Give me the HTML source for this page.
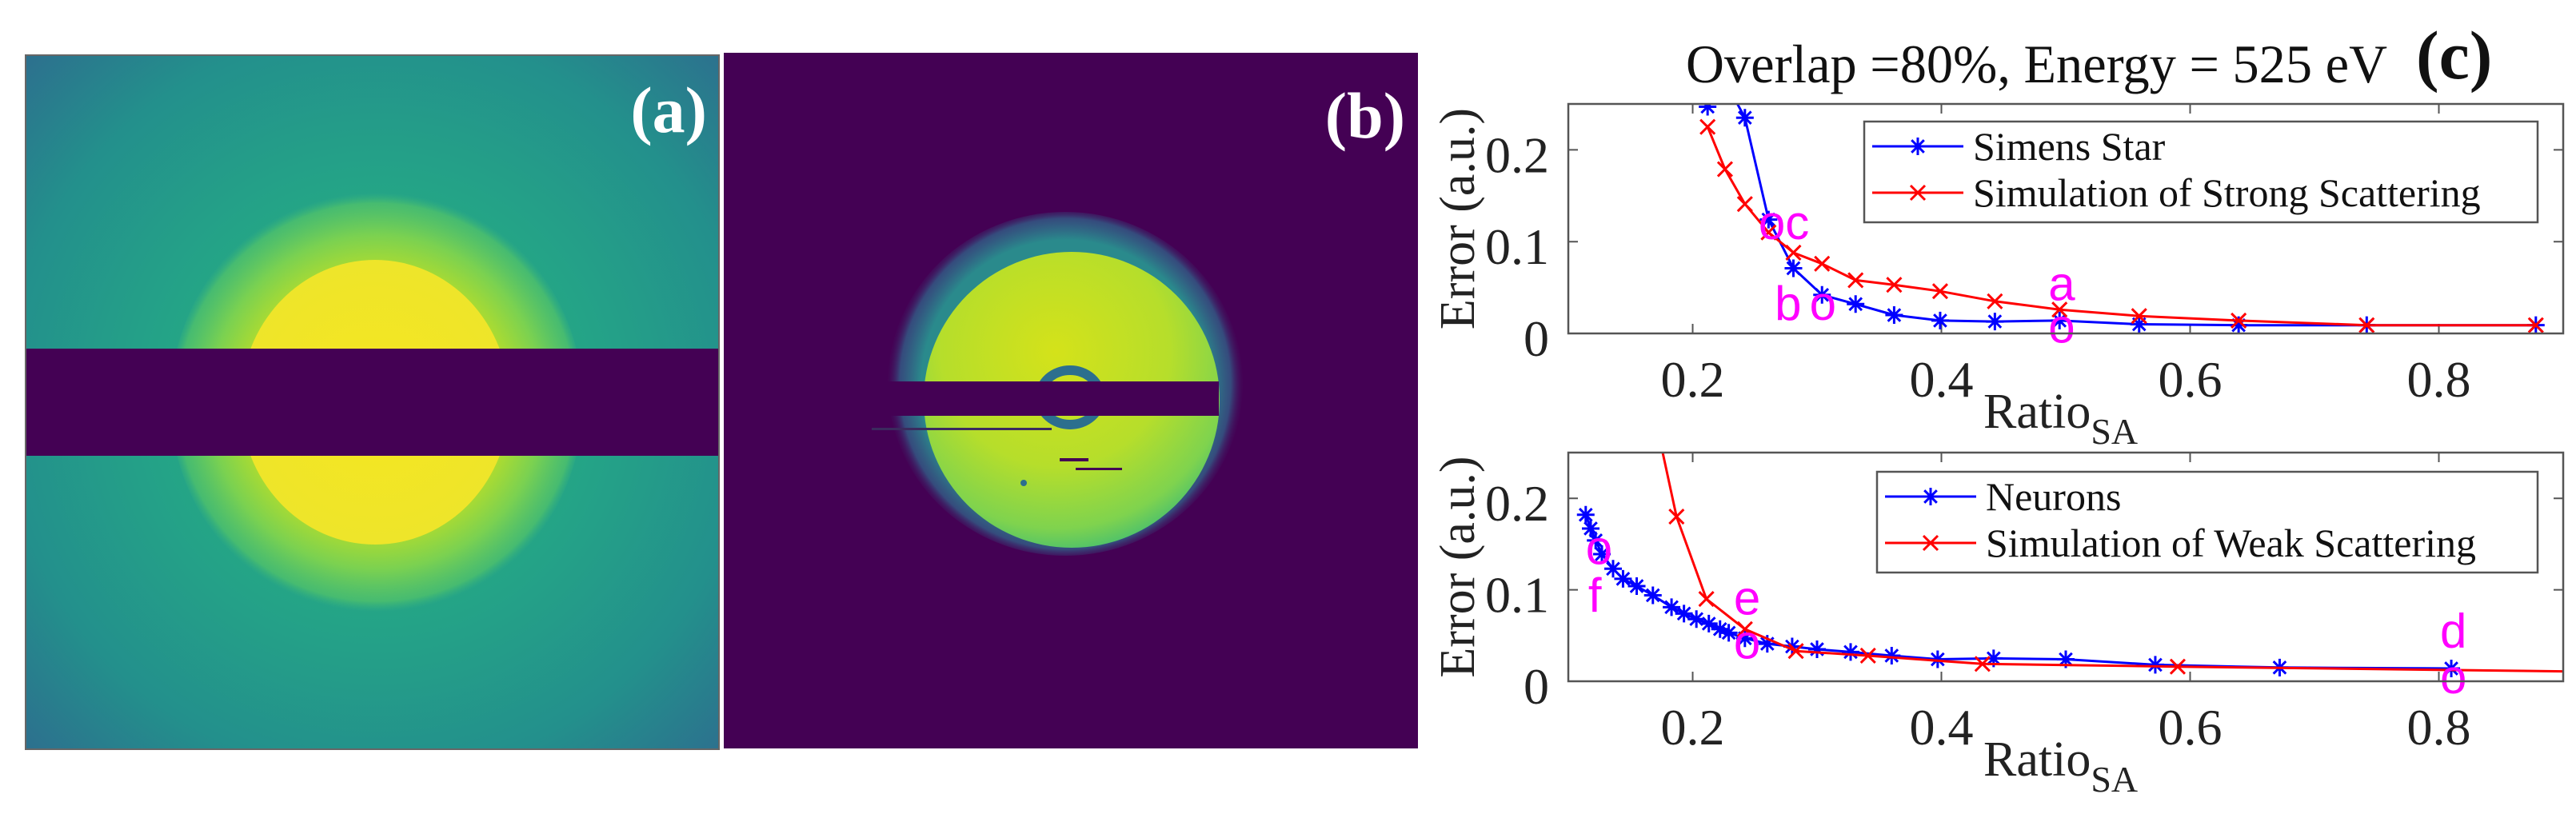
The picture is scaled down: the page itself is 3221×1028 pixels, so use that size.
<!DOCTYPE html>
<html><head><meta charset="utf-8"><style>
html,body{margin:0;padding:0;background:#fff;}
svg{display:block;}
</style></head><body>
<svg id="fig" width="3221" height="1028" viewBox="0 0 3221 1028" xmlns="http://www.w3.org/2000/svg">
<defs>
<radialGradient id="gA" cx="471" cy="503" r="620" gradientUnits="userSpaceOnUse">
<stop offset="0" stop-color="#2fb47c"/><stop offset="0.45" stop-color="#24a387"/><stop offset="0.75" stop-color="#23908c"/><stop offset="1" stop-color="#2d6f8e"/>
</radialGradient>
<radialGradient id="gRing" cx="471" cy="503" r="262" gradientUnits="userSpaceOnUse">
<stop offset="0.6" stop-color="#b8de29" stop-opacity="1"/><stop offset="0.8" stop-color="#7ad151" stop-opacity="1"/><stop offset="0.95" stop-color="#4fc16b" stop-opacity="0.8"/><stop offset="1" stop-color="#3bb57a" stop-opacity="0"/>
</radialGradient>
<radialGradient id="gYel" cx="469" cy="503" r="175" gradientUnits="userSpaceOnUse">
<stop offset="0" stop-color="#f6e620"/><stop offset="1" stop-color="#eee52a"/>
</radialGradient>
<radialGradient id="gDisc" cx="1320" cy="440" r="260" gradientUnits="userSpaceOnUse">
<stop offset="0" stop-color="#d4e21a"/><stop offset="0.55" stop-color="#b6de2b"/><stop offset="0.85" stop-color="#7fd34e"/><stop offset="1" stop-color="#3fbc73"/>
</radialGradient>
<radialGradient id="gHalo" cx="1332" cy="480" r="225" gradientUnits="userSpaceOnUse">
<stop offset="0.8" stop-color="#2a8a8c" stop-opacity="1"/><stop offset="0.92" stop-color="#2f6b8e" stop-opacity="0.7"/><stop offset="1" stop-color="#440154" stop-opacity="0"/>
</radialGradient>
<clipPath id="clipA"><rect x="32" y="69" width="867" height="868"/></clipPath>
<clipPath id="clipTop"><rect x="1961" y="130" width="1244" height="287"/></clipPath>
<clipPath id="clipBot"><rect x="1961" y="566" width="1244" height="286"/></clipPath>
</defs>

<!-- Panel (a) -->
<g clip-path="url(#clipA)">
<rect x="32" y="69" width="867" height="868" fill="url(#gA)"/>
<ellipse cx="471" cy="503" rx="258" ry="266" fill="url(#gRing)"/>
<ellipse cx="469" cy="503" rx="168" ry="178" fill="url(#gYel)"/>
<rect x="32" y="436" width="867" height="134" fill="#440154"/>
</g>
<rect x="32" y="69" width="867" height="868" fill="none" stroke="#666" stroke-width="2"/>
<text x="884" y="165" text-anchor="end" font-family="Liberation Serif, serif" font-weight="bold" font-size="82" fill="#fff">(a)</text>

<!-- Panel (b) -->
<g>
<rect x="905" y="66" width="868" height="870" fill="#440154"/>
<ellipse cx="1332" cy="480" rx="222" ry="215" fill="url(#gHalo)"/>
<circle cx="1340" cy="500" r="185" fill="url(#gDisc)"/>
<ellipse cx="1338" cy="497" rx="38" ry="34" fill="none" stroke="#2c6f8e" stroke-width="12"/>
<rect x="1100" y="477" width="424" height="43" fill="#440154"/>
<rect x="1090" y="535" width="225" height="3" fill="#3b2a5e"/>
<rect x="1325" y="573" width="36" height="4" fill="#440154"/>
<rect x="1345" y="585" width="58" height="3" fill="#440154"/>
<circle cx="1280" cy="604" r="4" fill="#2c6f8e"/>
</g>
<text x="1757" y="172" text-anchor="end" font-family="Liberation Serif, serif" font-weight="bold" font-size="82" fill="#fff">(b)</text>

<!-- Panel (c) -->
<text x="2108" y="103" font-family="Liberation Serif, serif" font-size="68" fill="#111" textLength="877" lengthAdjust="spacingAndGlyphs">Overlap =80%, Energy = 525 eV</text>
<text x="3021" y="98" font-family="Liberation Serif, serif" font-weight="bold" font-size="86" fill="#111">(c)</text>
<g id="plots"></g>
</svg>
<script>
// ---- Top subplot data (Simens Star / Strong scattering) ----
const topStarX = [0.212, 0.228, 0.242, 0.261, 0.281, 0.304, 0.331, 0.362, 0.399, 0.443, 0.495, 0.559, 0.639, 0.742, 0.878];
const topStarY = [0.247, 0.27, 0.235, 0.124, 0.071, 0.042, 0.032, 0.020, 0.014, 0.013, 0.014, 0.010, 0.009, 0.009, 0.009];
const topSimX = [0.212, 0.226, 0.242, 0.261, 0.281, 0.304, 0.331, 0.362, 0.399, 0.443, 0.495, 0.559, 0.639, 0.742, 0.878];
const topSimY = [0.225, 0.179, 0.141, 0.110, 0.088, 0.076, 0.058, 0.053, 0.046, 0.035, 0.026, 0.019, 0.014, 0.009, 0.009];
// ---- Bottom subplot data (Neurons / Weak scattering) ----
const botNeurX = [0.114, 0.118, 0.122, 0.127, 0.136, 0.144, 0.155, 0.168, 0.183, 0.193, 0.203, 0.213, 0.222, 0.229, 0.242, 0.260, 0.280, 0.300, 0.327, 0.360, 0.397, 0.442, 0.500, 0.572, 0.672, 0.810];
const botNeurY = [0.182, 0.167, 0.154, 0.139, 0.123, 0.112, 0.104, 0.094, 0.081, 0.074, 0.068, 0.063, 0.057, 0.053, 0.047, 0.041, 0.038, 0.035, 0.032, 0.028, 0.024, 0.025, 0.024, 0.018, 0.015, 0.014];
const botSimX = [0.16, 0.187, 0.211, 0.242, 0.283, 0.341, 0.433, 0.590, 0.95];
const botSimY = [0.35, 0.180, 0.090, 0.057, 0.033, 0.028, 0.019, 0.016, 0.010];
const xTicks = [0.2, 0.4, 0.6, 0.8];
const xTickLabels = ["0.2", "0.4", "0.6", "0.8"];
const yTicks = [0, 0.1, 0.2];
const yTickLabels = ["0", "0.1", "0.2"];
const topNotes = ["oc", "b", "o", "a", "o"];
const topNoteX = [0.253, 0.266, 0.294, 0.486, 0.486];
const topNoteY = [0.103, 0.015, 0.015, 0.036, -0.010];
const botNotes = ["o", "f", "e", "o", "d", "o"];
const botNoteX = [0.114, 0.116, 0.233, 0.233, 0.801, 0.801];
const botNoteY = [0.128, 0.076, 0.073, 0.025, 0.037, -0.013];

const NS = "http://www.w3.org/2000/svg";
const root = document.getElementById("plots");
function mk(tag, attrs, parent) {
  const e = document.createElementNS(NS, tag);
  for (const k in attrs) e.setAttribute(k, attrs[k]);
  (parent || root).appendChild(e);
  return e;
}
function starPath(cx, cy, r) {
  const d = r * 0.707;
  return `M${cx - r},${cy}H${cx + r}M${cx},${cy - r}V${cy + r}M${cx - d},${cy - d}L${cx + d},${cy + d}M${cx - d},${cy + d}L${cx + d},${cy - d}`;
}
function crossPath(cx, cy, r) {
  return `M${cx - r},${cy - r}L${cx + r},${cy + r}M${cx - r},${cy + r}L${cx + r},${cy - r}`;
}

function makeAxes(cfg) {
  const L = 1961, R = 3205, T = cfg.top, B = cfg.bottom;
  const xs = v => L + (v - 0.1) / 0.8 * (R - L);
  const ys = v => B - v / 0.25 * (B - T);
  const g = mk("g", {});
  
  
  xTicks.forEach((t, i) => {
    const x = xs(t);
    const tk = mk("path", { d: `M${x},${B}V${B - 12}M${x},${T}V${T + 12}`, stroke: "#555", "stroke-width": 2, fill: "none" }, g);
    
    
    const lb = mk("text", { x: x, y: B + 79, "text-anchor": "middle", "font-family": "Liberation Serif, serif", "font-size": 64, fill: "#222" }, g);
    
    
    lb.textContent = xTickLabels[i];
  });
  yTicks.forEach((t, i) => {
    const y = ys(t);
    const tk = mk("path", { d: `M${L},${y}H${L + 12}M${R},${y}H${R - 12}`, stroke: "#555", "stroke-width": 2, fill: "none" }, g);
    
    
    const lb = mk("text", { x: L - 24, y: y + 28, "text-anchor": "end", "font-family": "Liberation Serif, serif", "font-size": 64, fill: "#222" }, g);
    
    
    lb.textContent = yTickLabels[i];
  });
  const sg = mk("g", { "clip-path": `url(#${cfg.clip})` }, g);
  cfg.series.forEach(s => {
    const pts = s.x.map((v, i) => `${xs(v).toFixed(1)},${ys(s.y[i]).toFixed(1)}`).join(" ");
    const pl = mk("polyline", { points: pts, fill: "none", stroke: s.color, "stroke-width": 3, "stroke-linejoin": "round" }, sg);
    
    
    let d = "";
    s.x.forEach((v, i) => { d += s.marker === "star" ? starPath(xs(v), ys(s.y[i]), 11) : crossPath(xs(v), ys(s.y[i]), 9); });
    const mp = mk("path", { d: d, fill: "none", stroke: s.color, "stroke-width": 3 }, sg);
    
    
  });
  cfg.notes.forEach((n, i) => {
    const t = mk("text", { x: xs(cfg.noteX[i]), y: ys(cfg.noteY[i]), "font-family": "Liberation Sans, sans-serif", "font-size": 60, fill: "#ff00ff" }, g);
    
    
    t.textContent = n;
  });
  const bx = mk("rect", { x: L, y: T, width: R - L, height: B - T, fill: "none", stroke: "#555", "stroke-width": 2.5 }, g);
  
  
  const yl = mk("text", { x: 0, y: 0, transform: `translate(1843,${(T + B) / 2}) rotate(-90)`, "text-anchor": "middle", "font-family": "Liberation Serif, serif", "font-size": 62, fill: "#222" }, g);
  
  
  yl.textContent = "Error (a.u.)";
  const xl = mk("text", { x: 2480, y: B + 118, "font-family": "Liberation Serif, serif", "font-size": 62, fill: "#222" }, g);
  
  
  xl.textContent = "Ratio";
  const sub = mk("tspan", { "font-size": 46, dy: 20 }, xl);
  sub.textContent = "SA";
  const lg = mk("g", {}, g);
  
  
  mk("rect", { x: cfg.leg.x, y: cfg.leg.y, width: 3173 - cfg.leg.x, height: cfg.leg.h, fill: "#fff", stroke: "#555", "stroke-width": 2.5 }, lg);
  cfg.series.forEach((s, i) => {
    const y = cfg.leg.y + 31 + i * 58;
    const x0 = cfg.leg.x + 10, x1 = x0 + 114;
    const e = mk("g", {}, lg);
    
    
    mk("path", { d: `M${x0},${y}H${x1}`, stroke: s.color, "stroke-width": 3 }, e);
    mk("path", { d: s.marker === "star" ? starPath((x0 + x1) / 2, y, 11) : crossPath((x0 + x1) / 2, y, 9), stroke: s.color, "stroke-width": 3, fill: "none" }, e);
    const t = mk("text", { x: x1 + 12, y: y + 17, "font-family": "Liberation Serif, serif", "font-size": 50, fill: "#111" }, e);
    t.textContent = s.label;
  });
}

makeAxes({
  name: "top-plot", top: 130, bottom: 417, clip: "clipTop",
  series: [
    { name: "simens-star", label: "Simens Star", x: topStarX, y: topStarY, color: "#0000ff", marker: "star" },
    { name: "strong-scattering", label: "Simulation of Strong Scattering", x: topSimX, y: topSimY, color: "#ff0000", marker: "cross" }
  ],
  notes: topNotes, noteX: topNoteX, noteY: topNoteY,
  leg: { x: 2331, y: 152, h: 126 }
});
makeAxes({
  name: "bottom-plot", top: 566, bottom: 852, clip: "clipBot",
  series: [
    { name: "neurons", label: "Neurons", x: botNeurX, y: botNeurY, color: "#0000ff", marker: "star" },
    { name: "weak-scattering", label: "Simulation of Weak Scattering", x: botSimX, y: botSimY, color: "#ff0000", marker: "cross" }
  ],
  notes: botNotes, noteX: botNoteX, noteY: botNoteY,
  leg: { x: 2347, y: 590, h: 126 }
});
</script>
</body></html>
